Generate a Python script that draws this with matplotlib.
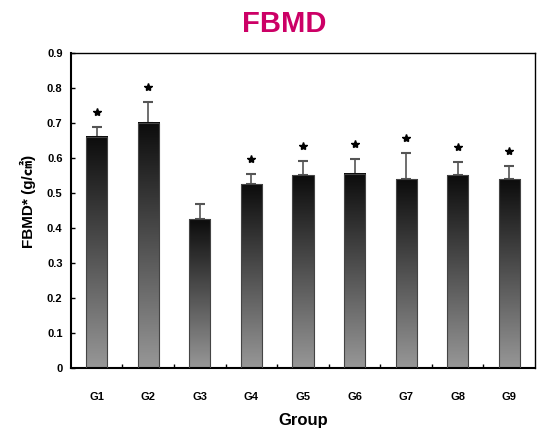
import numpy as np
import matplotlib
matplotlib.use("Agg")
import matplotlib.pyplot as plt
from matplotlib.colors import LinearSegmentedColormap

groups = ["G1", "G2", "G3", "G4", "G5", "G6", "G7", "G8", "G9"]
means = [0.661, 0.702, 0.425, 0.526, 0.551, 0.555, 0.540, 0.551, 0.540]
sds = [0.029, 0.059, 0.043, 0.029, 0.041, 0.044, 0.075, 0.037, 0.037]
signif = [True, True, False, True, True, True, True, True, True]

plt.rcParams["font.family"] = ["Liberation Sans Narrow", "Liberation Sans", "Noto Sans CJK KR", "DejaVu Sans"]
plt.rcParams["font.weight"] = "bold"

fig = plt.figure(figsize=(5.41, 4.37), dpi=100)
ax = fig.add_axes([0.131, 0.158, 0.858, 0.720])

# gradient bars: black at top, grey at bottom
cmap = LinearSegmentedColormap.from_list("bar", ["#979797", "#0c0c0c"])
grad = np.linspace(0, 1, 256).reshape(-1, 1)
x = np.arange(len(groups))
width = 0.41
for xi, m in zip(x, means):
    ax.imshow(grad, extent=[xi - width / 2, xi + width / 2, 0, m], origin="lower",
              aspect="auto", cmap=cmap, zorder=2)
    ax.bar(xi, m, width, facecolor="none", edgecolor="#444444", linewidth=0.8, zorder=3)

ax.errorbar(x, means, yerr=[np.zeros(len(sds)), sds], fmt="none", ecolor="#555555",
            elinewidth=1.2, capsize=3.5, capthick=1.5, zorder=1)

for xi, m, s, sig in zip(x, means, sds, signif):
    if sig:
        ax.plot(xi, m + s + 0.043, marker="*", color="black", markersize=6, zorder=4)

ax.set_xlim(-0.5, len(groups) - 0.5)
ax.set_ylim(0, 0.9)
ax.set_yticks(np.arange(0, 0.91, 0.1))
ax.set_yticklabels(["0"] + ["%.1f" % v for v in np.arange(0.1, 0.91, 0.1)], fontsize=8)
ax.set_xticks(x)
ax.set_xticklabels(groups, fontsize=8)
ax.set_xticks(np.arange(0.5, len(groups) - 1, 1.0), minor=True)
ax.tick_params(axis="x", which="major", length=0, pad=17)
ax.tick_params(axis="x", which="minor", direction="in", length=3, width=1)
ax.tick_params(axis="y", direction="in", length=3, width=1, pad=6)

for side in ["left", "bottom"]:
    ax.spines[side].set_linewidth(1.5)
for side in ["top", "right"]:
    ax.spines[side].set_linewidth(1.0)

ax.set_xlabel("Group", fontsize=12, fontweight="bold", labelpad=8)
ax.set_ylabel("FBMD* (g/\u33a0)", fontsize=11, fontweight="bold",
              family=["Liberation Sans", "Noto Sans CJK KR", "DejaVu Sans"])
ax.yaxis.set_label_coords(-0.075, 0.53)
fig.text(0.525, 0.945, "FBMD", ha="center", va="center", fontsize=21,
         fontweight="bold", color="#CC0066", family=["Liberation Sans", "DejaVu Sans"])

fig.savefig("out.png", dpi=100)
